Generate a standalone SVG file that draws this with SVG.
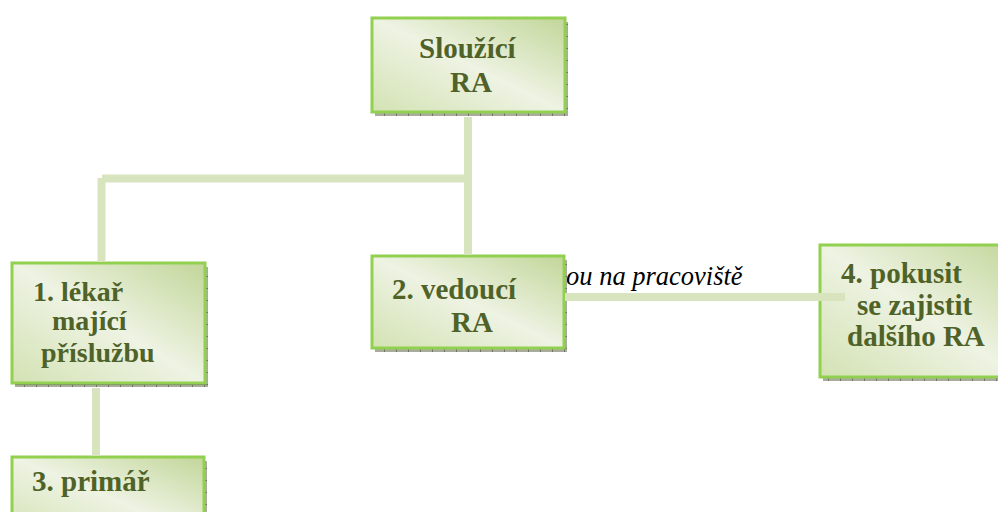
<svg xmlns="http://www.w3.org/2000/svg" width="998" height="512" viewBox="0 0 998 512">
  <style>
    .box { fill: url(#boxFill); stroke: #92d050; stroke-width: 3; }
    .shadow { fill: url(#shadowPat); }
    .lbl { font-family: "Liberation Serif", "Times New Roman", "DejaVu Serif", serif; font-weight: bold; font-size: 29px; fill: #4f6228; }
    .sm { font-size: 28px; }
    .note { font-family: "Liberation Serif", "Times New Roman", "DejaVu Serif", serif; font-style: italic; font-size: 26.5px; fill: #000000; }
    .conn { stroke: #d7e4bd; stroke-width: 8; fill: none; stroke-linecap: butt; }
  </style>
  <defs>
    <linearGradient id="boxFill" x1="1" y1="0" x2="0" y2="1">
      <stop offset="0" stop-color="#c2d699"/>
      <stop offset="0.5" stop-color="#eef3e3"/>
      <stop offset="1" stop-color="#d3e2b3"/>
    </linearGradient>
    <pattern id="shadowPat" patternUnits="userSpaceOnUse" width="12" height="12">
      <rect width="12" height="12" fill="#a9ac9d"/>
      <rect width="1" height="12" fill="#6f7264"/>
      <rect width="12" height="1" fill="#6f7264"/>
    </pattern>
  </defs>

  <text class="note" x="566" y="285">ou na pracoviště</text>

  <g id="node-top">
    <rect class="shadow" x="375" y="22" width="193" height="94"/>
    <rect class="box" x="372" y="18" width="193" height="94"/>
    <text class="lbl" x="419" y="58">Sloužící</text>
    <text class="lbl" x="450" y="92">RA</text>
  </g>

  <g id="node-1">
    <rect class="shadow" x="15" y="267" width="193" height="120"/>
    <rect class="box" x="12" y="263" width="193" height="120"/>
    <text class="lbl sm" x="33" y="301">1. lékař</text>
    <text class="lbl sm" x="52" y="330">mající</text>
    <text class="lbl sm" x="41" y="362">příslužbu</text>
  </g>

  <g id="node-2">
    <rect class="shadow" x="375" y="260" width="192" height="92"/>
    <rect class="box" x="372" y="256" width="192" height="92"/>
    <text class="lbl" x="392" y="299">2. vedoucí</text>
    <text class="lbl" x="451" y="332">RA</text>
  </g>

  <g id="node-3">
    <rect class="shadow" x="15" y="461" width="192" height="80"/>
    <rect class="box" x="12" y="457" width="192" height="80"/>
    <text class="lbl" x="32" y="491">3. primář</text>
  </g>

  <g id="node-4">
    <rect class="shadow" x="823" y="249" width="200" height="132"/>
    <rect class="box" x="820" y="245" width="200" height="132"/>
    <text class="lbl" x="841" y="283">4. pokusit</text>
    <text class="lbl" x="857" y="315">se zajistit</text>
    <text class="lbl" x="847" y="346">dalšího RA</text>
  </g>

  <g id="connectors">
    <line class="conn" x1="468" y1="117" x2="468" y2="255"/>
    <line class="conn" x1="102" y1="178.5" x2="472" y2="178.5"/>
    <line class="conn" x1="101.5" y1="178" x2="101.5" y2="262"/>
    <line class="conn" x1="96" y1="388" x2="96" y2="456"/>
    <line class="conn" x1="565" y1="297" x2="845" y2="297"/>
  </g>
</svg>
